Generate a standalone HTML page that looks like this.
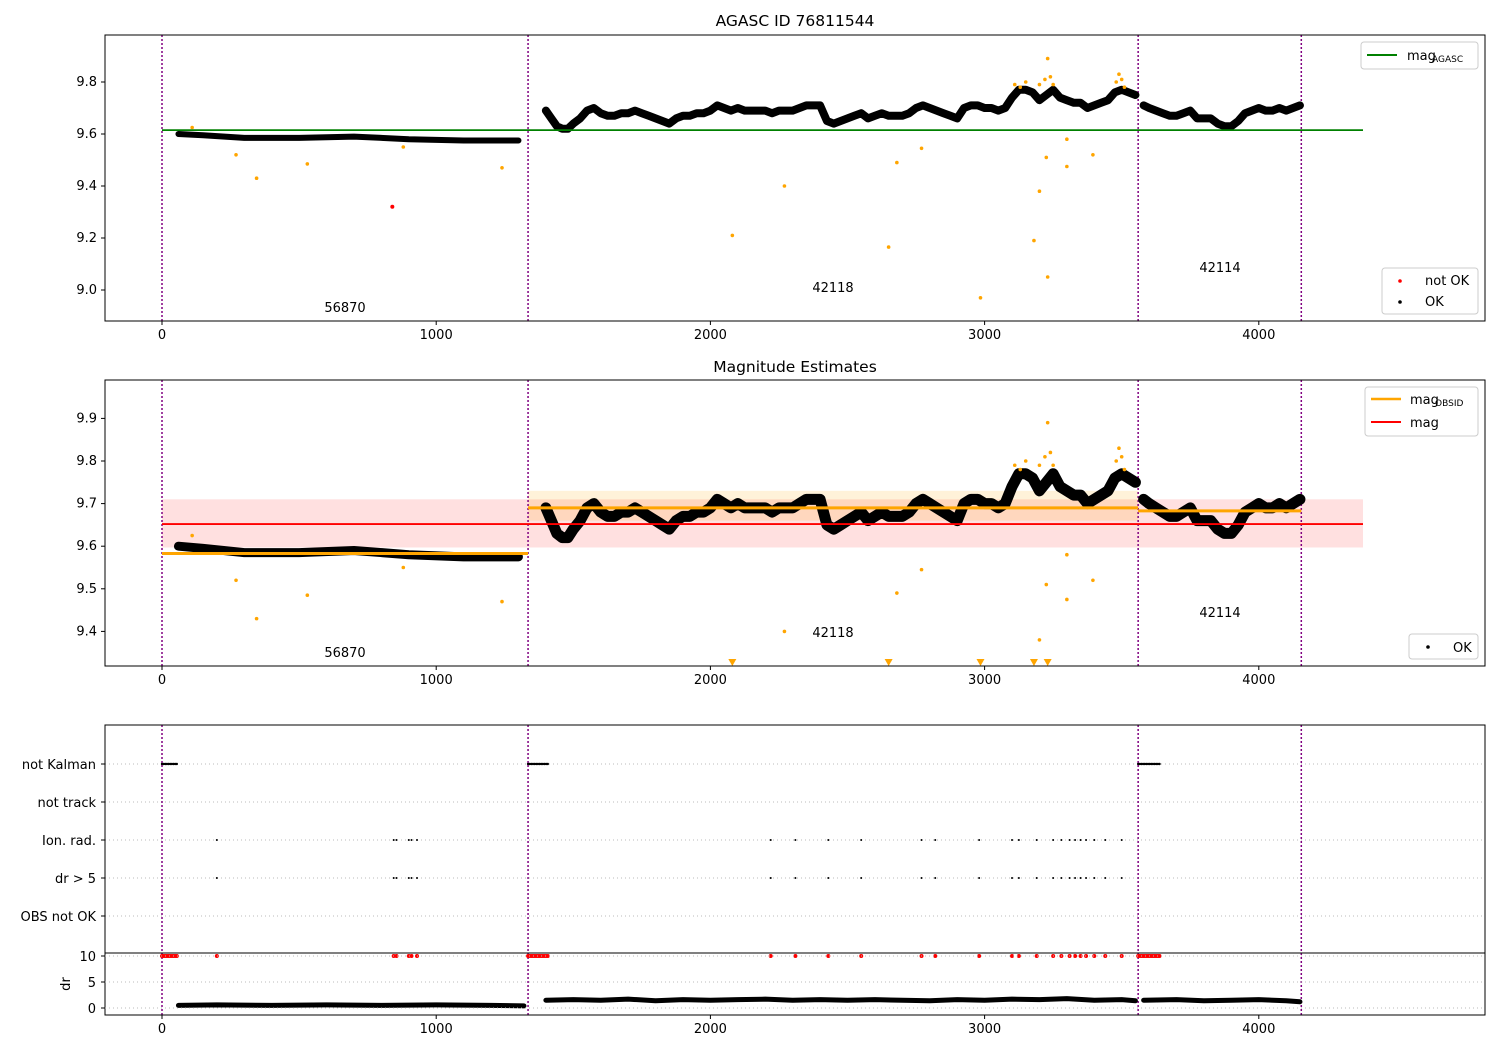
<!DOCTYPE html>
<html><head><meta charset="utf-8"><style>
body{margin:0;background:#fff;font-family:"Liberation Sans","DejaVu Sans",sans-serif}
svg text{font-family:"DejaVu Sans","Liberation Sans",sans-serif}
</style></head><body>
<svg id="c" width="1500" height="1050" xmlns="http://www.w3.org/2000/svg"></svg>
<script>
// ---- data ----
const obsids=["56870","42118","42114"];
const obsStart=[0,1335,3560];
const obsEnd=[1335,3560,4155];
const t1=[60,150,300,500,700,900,1100,1300];
const m1=[9.60,9.595,9.585,9.585,9.59,9.58,9.575,9.575];
const t2=[1400,1420,1440,1460,1480,1500,1525,1550,1575,1600,1625,1650,1675,1700,1725,1750,1775,1800,1825,1850,1875,1900,1925,1950,1975,2000,2025,2050,2075,2100,2125,2150,2175,2200,2225,2250,2275,2300,2325,2350,2375,2400,2425,2450,2475,2500,2525,2550,2575,2600,2625,2650,2675,2700,2725,2750,2775,2800,2825,2850,2875,2900,2925,2950,2975,3000,3025,3050,3075,3100,3125,3150,3175,3200,3225,3250,3275,3300,3325,3350,3375,3400,3425,3450,3475,3500,3525,3550];
const m2=[9.69,9.66,9.63,9.62,9.62,9.64,9.66,9.69,9.70,9.68,9.67,9.67,9.68,9.68,9.69,9.68,9.67,9.66,9.65,9.64,9.66,9.67,9.67,9.68,9.68,9.69,9.71,9.70,9.69,9.70,9.69,9.69,9.69,9.69,9.68,9.69,9.69,9.69,9.70,9.71,9.71,9.71,9.65,9.64,9.65,9.66,9.67,9.68,9.66,9.67,9.68,9.67,9.67,9.67,9.68,9.70,9.71,9.70,9.69,9.68,9.67,9.66,9.70,9.71,9.71,9.70,9.70,9.69,9.70,9.74,9.77,9.77,9.76,9.73,9.75,9.77,9.74,9.73,9.72,9.72,9.70,9.71,9.72,9.73,9.76,9.77,9.76,9.75];
const t3=[3580,3600,3625,3650,3675,3700,3725,3750,3775,3800,3825,3850,3875,3900,3925,3950,3975,4000,4025,4050,4075,4100,4125,4150];
const m3=[9.71,9.70,9.69,9.68,9.67,9.67,9.68,9.69,9.66,9.66,9.66,9.64,9.63,9.63,9.65,9.68,9.69,9.70,9.69,9.69,9.70,9.69,9.70,9.71];
const outT=[110,270,345,530,880,1240,2080,2270,2650,2680,2770,2985,3180,3200,3225,3230,3230,3300,3300,3395,3110,3130,3150,3200,3220,3240,3250,3480,3490,3500,3510];
const outM=[9.625,9.52,9.43,9.485,9.55,9.47,9.21,9.40,9.165,9.49,9.545,8.97,9.19,9.38,9.51,9.05,9.89,9.58,9.475,9.52,9.79,9.78,9.80,9.79,9.81,9.82,9.79,9.80,9.83,9.81,9.78];
const badT=[840];
const badM=[9.32];
const magAgasc=9.615;
const magMean=9.652, magLo=9.597, magHi=9.71;
const obsMag=[9.583,9.69,9.683];
const flagT=[200,845,855,900,910,930,2220,2310,2430,2550,2770,2820,2980,3100,3125,3190,3250,3280,3310,3330,3350,3370,3400,3440,3500];
const kalmanStart=[0,1335,3560], kalmanEnd=[55,1410,3640];
const drT=[60,200,400,600,800,1000,1200,1320,1400,1500,1600,1700,1800,1900,2000,2100,2200,2300,2400,2500,2600,2700,2800,2900,3000,3100,3200,3300,3400,3500,3550,3580,3700,3800,3900,4000,4100,4150];
const drV=[0.5,0.6,0.5,0.6,0.5,0.6,0.5,0.4,1.5,1.6,1.5,1.7,1.4,1.6,1.5,1.6,1.7,1.5,1.6,1.5,1.6,1.5,1.4,1.6,1.5,1.7,1.6,1.8,1.5,1.6,1.4,1.5,1.6,1.4,1.5,1.6,1.4,1.2];
const cats=["not Kalman","not track","Ion. rad.","dr > 5","OBS not OK"];
const xticks=[0,1000,2000,3000,4000];
// ---- scales ----
const X=t=>162+t*0.2742;
const Y1=m=>134-(m-9.6)*260;
const Y2=m=>503.6-(m-9.7)*426;
const YC=i=>764+i*38;
const YD=d=>1008-d*5.2;
const svg=document.getElementById('c');
const NS="http://www.w3.org/2000/svg";
function el(tag,attrs,parent){const e=document.createElementNS(NS,tag);for(const k in attrs)e.setAttribute(k,attrs[k]);(parent||svg).appendChild(e);return e;}
function txt(s,x,y,anchor,size,name){const e=el('text',{x:x,y:y,'text-anchor':anchor||'middle',style:'font-size:'+(size||13)+'px'});e.textContent=s;

return e;}
function frame(y0,y1,name){const r=el('rect',{x:105,y:y0,width:1380,height:y1-y0,fill:'none',stroke:'#000','stroke-width':1});

}
function xaxis(yb){xticks.forEach(v=>{el('line',{x1:X(v),x2:X(v),y1:yb,y2:yb+4,stroke:'#000'});txt(String(v),X(v),yb+18,'middle',13,'x-tick-label');});}
function vlines(y0,y1){[0,1335,3560,4155].forEach(v=>{const l=el('line',{x1:X(v),x2:X(v),y1:y0,y2:y1,stroke:'#800080','stroke-width':1.5,'stroke-dasharray':'2,2'});

});}
function band(ts,ms,Y,w){const p=el('polyline',{points:ts.map((t,i)=>X(t)+','+Y(ms[i])).join(' '),fill:'none',stroke:'#000','stroke-width':w,'stroke-linejoin':'round','stroke-linecap':'round'});

}
function yticks(vals,Y,fmt){vals.forEach(v=>{el('line',{x1:101,x2:105,y1:Y(v),y2:Y(v),stroke:'#000'});txt(fmt(v),97,Y(v)+4,'end',13,'y-tick-label');});}
// ---- panel 1 ----
txt('AGASC ID 76811544',795,26,'middle',15.5,'title-top');
vlines(35,321);
band(t1,m1,Y1,6);band(t2,m2,Y1,8);band(t3,m3,Y1,8);
outT.forEach((t,i)=>{const c=el('circle',{cx:X(t),cy:Y1(outM[i]),r:1.8,fill:'orange'});

});
badT.forEach((t,i)=>{const c=el('circle',{cx:X(t),cy:Y1(badM[i]),r:2,fill:'red'});

});
const ga=el('line',{x1:X(0),x2:X(4380),y1:Y1(magAgasc),y2:Y1(magAgasc),stroke:'green','stroke-width':1.8});


frame(35,321,'top-panel');
yticks([9.0,9.2,9.4,9.6,9.8],Y1,v=>v.toFixed(1));
xaxis(321);
txt('56870',345,312,'middle',13,'obsid-label');txt('42118',833,292,'middle',13,'obsid-label');txt('42114',1220,272,'middle',13,'obsid-label');
el('rect',{x:1361,y:42,width:117,height:27,fill:'#fff',stroke:'#ccc',rx:3});
el('line',{x1:1367,x2:1397,y1:55,y2:55,stroke:'green','stroke-width':2});
txt('mag',1407,60,'start',13,'legend-mag-agasc');txt('AGASC',1432,62,'start',9,'legend-sub');
el('rect',{x:1382,y:268,width:96,height:46,fill:'#fff',stroke:'#ccc',rx:3});
el('circle',{cx:1400,cy:281,r:1.8,fill:'red'});txt('not OK',1425,285,'start',13,'legend-not-ok');
el('circle',{cx:1400,cy:302,r:1.8,fill:'#000'});txt('OK',1425,306,'start',13,'legend-ok');
// ---- panel 2 ----
txt('Magnitude Estimates',795,372,'middle',15.5,'title-middle');
const bnd=el('rect',{x:X(0),y:Y2(magHi),width:X(4380)-X(0),height:Y2(magLo)-Y2(magHi),fill:'rgba(255,0,0,0.12)'});


el('rect',{x:X(1335),y:Y2(9.73),width:X(3560)-X(1335),height:Y2(9.66)-Y2(9.73),fill:'rgba(255,165,0,0.15)'});
vlines(380,666);
band(t1,m1,Y2,9);band(t2,m2,Y2,11);band(t3,m3,Y2,11);
outT.forEach((t,i)=>{const m=outM[i];const y=Y2(m);if(y>663){const p=el('polygon',{points:`${X(t)-4},659 ${X(t)+4},659 ${X(t)},666`,fill:'orange'});

}else if(y>380){const c=el('circle',{cx:X(t),cy:y,r:1.8,fill:'orange'});

}});
obsStart.forEach((s,i)=>{const l=el('line',{x1:X(s),x2:X(obsEnd[i]),y1:Y2(obsMag[i]),y2:Y2(obsMag[i]),stroke:'orange','stroke-width':3});

});
const ml=el('line',{x1:X(0),x2:X(4380),y1:Y2(magMean),y2:Y2(magMean),stroke:'red','stroke-width':1.8});


frame(380,666,'middle-panel');
yticks([9.4,9.5,9.6,9.7,9.8,9.9],Y2,v=>v.toFixed(1));
xaxis(666);
txt('56870',345,657,'middle',13,'obsid-label');txt('42118',833,637,'middle',13,'obsid-label');txt('42114',1220,617,'middle',13,'obsid-label');
el('rect',{x:1365,y:387,width:113,height:49,fill:'#fff',stroke:'#ccc',rx:3});
el('line',{x1:1371,x2:1401,y1:399,y2:399,stroke:'orange','stroke-width':2.5});txt('mag',1410,404,'start',13,'legend-mag-obsid');txt('OBSID',1435,406,'start',9,'legend-sub');
el('line',{x1:1371,x2:1401,y1:422,y2:422,stroke:'red','stroke-width':2});txt('mag',1410,427,'start',13,'legend-mag');
el('rect',{x:1409,y:634,width:69,height:25,fill:'#fff',stroke:'#ccc',rx:3});
el('circle',{cx:1428,cy:647,r:1.8,fill:'#000'});txt('OK',1453,652,'start',13,'legend-ok-2');
// ---- panel 3 ----
cats.forEach((c,i)=>{el('line',{x1:105,x2:1485,y1:YC(i),y2:YC(i),stroke:'#bbb','stroke-dasharray':'1,3'});txt(c,96,YC(i)+5,'end',13,'category-label');el('line',{x1:101,x2:105,y1:YC(i),y2:YC(i),stroke:'#000'});});
vlines(725,1015);
kalmanStart.forEach((s,i)=>{for(let t=s;t<=kalmanEnd[i];t+=6){el('circle',{cx:X(t),cy:YC(0),r:1.2,fill:'#000'});el('circle',{cx:X(t),cy:YD(10),r:2,fill:'red'});}});
flagT.forEach(t=>{[2,3].forEach(i=>{const c=el('circle',{cx:X(t),cy:YC(i),r:1,fill:'#000'});

});
const r=el('circle',{cx:X(t),cy:YD(10),r:2,fill:'red'});

});
const segs=[[0,8],[8,31],[31,38]];
segs.forEach(([a,b])=>band(drT.slice(a,b),drV.slice(a,b),YD,5));
frame(725,953,'flags-panel');frame(953,1015,'dr-panel');
[0,5,10].forEach(v=>{el('line',{x1:105,x2:1485,y1:YD(v),y2:YD(v),stroke:'#bbb','stroke-dasharray':'1,3'});el('line',{x1:101,x2:105,y1:YD(v),y2:YD(v),stroke:'#000'});txt(String(v),96,YD(v)+5,'end',13,'dr-tick-label');});
const yl=txt('dr',70,984,'middle',13,'dr-axis-title');yl.setAttribute('transform','rotate(-90 70 984)');
xaxis(1015);
</script>
</body></html>
